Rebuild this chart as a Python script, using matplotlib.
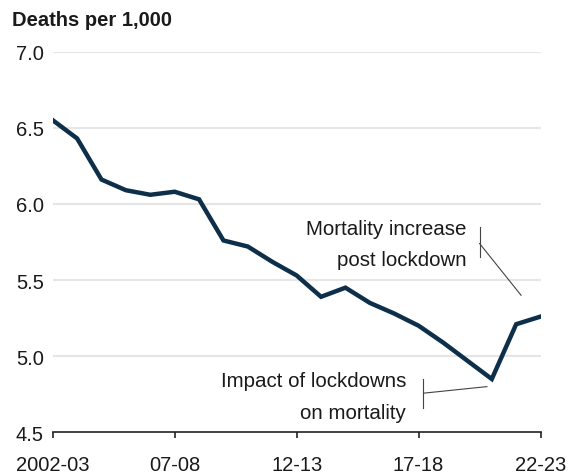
import matplotlib.pyplot as plt
import numpy as np

plt.rcParams['font.family'] = ['Liberation Sans', 'DejaVu Sans']

# deaths per 1,000, financial years 2002-03 .. 2022-23
years = ['2002-03', '03-04', '04-05', '05-06', '06-07', '07-08', '08-09', '09-10',
         '10-11', '11-12', '12-13', '13-14', '14-15', '15-16', '16-17', '17-18',
         '18-19', '19-20', '20-21', '21-22', '22-23']
deaths = [6.55, 6.43, 6.16, 6.09, 6.06, 6.08, 6.03, 5.76, 5.72, 5.62, 5.53,
          5.39, 5.45, 5.35, 5.28, 5.20, 5.09, 4.97, 4.85, 5.21, 5.26]
tick_pos = [0, 5, 10, 15, 20]
yticks = [4.5, 5.0, 5.5, 6.0, 6.5, 7.0]

navy = '#0d2f4a'
txt = '#1a1a1a'
fs = 14.8

fig = plt.figure(figsize=(5.76, 4.77), dpi=100)
ax = fig.add_axes([0.0915, 0.0916, 0.847, 0.798])

x = np.arange(len(deaths))
ax.plot(x, deaths, color=navy, lw=3.2, solid_joinstyle='miter', zorder=3)

ax.set_xlim(0, 20)
ax.set_ylim(4.5, 7.0)
ax.set_yticks(yticks)
ax.set_yticklabels([f'{v:.1f}' for v in yticks])
ax.set_xticks(tick_pos)
ax.set_xticklabels([years[i] for i in tick_pos])
for v in yticks[1:]:
    ax.axhline(v, color='#e6e6e6', lw=1.5, zorder=1)

for s in ['top', 'right', 'left']:
    ax.spines[s].set_visible(False)
ax.spines['bottom'].set_color('#222222')
ax.spines['bottom'].set_linewidth(1.2)
ax.tick_params(axis='y', length=0, pad=6.5, labelsize=14.5, labelcolor=txt)
ax.tick_params(axis='x', length=4.5, width=1.2, color='#222222', direction='out',
               pad=12, labelsize=14.5, labelcolor=txt)

fig.text(0.0203, 0.9455, 'Deaths per 1,000', fontsize=14.5, fontweight='bold',
         color=txt, va='baseline', ha='left')

# annotations
ax.text(16.95, 5.801, 'Mortality increase', ha='right', va='baseline', fontsize=fs, color=txt)
ax.text(16.95, 5.598, 'post lockdown', ha='right', va='baseline', fontsize=fs, color=txt)
ax.plot([17.5, 17.5], [5.85, 5.65], color='#444444', lw=0.8)
ax.plot([17.5, 19.2], [5.74, 5.40], color='#444444', lw=0.8)

ax.text(14.49, 4.806, 'Impact of lockdowns', ha='right', va='baseline', fontsize=fs, color=txt)
ax.text(14.49, 4.594, 'on mortality', ha='right', va='baseline', fontsize=fs, color=txt)
ax.plot([15.2, 15.2], [4.85, 4.66], color='#444444', lw=0.8)
ax.plot([15.2, 17.8], [4.757, 4.80], color='#444444', lw=0.8)

fig.savefig('out.png', dpi=100)
